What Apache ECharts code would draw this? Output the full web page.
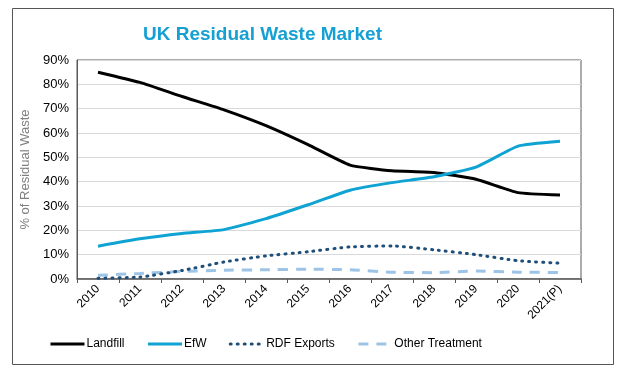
<!DOCTYPE html>
<html>
<head>
  <meta charset="utf-8">
  <script src="https://cdn.jsdelivr.net/npm/echarts@6/dist/echarts.min.js"></script>
  <style>
  html,body{margin:0;padding:0;background:#fff}
  #main{width:620px;height:374px}
  </style>
</head>
<body>
  <div id="main"></div>
  <script type="text/javascript">
      // data (percent)
      var years = ['2010', '2011', '2012', '2013', '2014', '2015', '2016', '2017', '2018', '2019', '2020', '2021(P)'];
      var landfill = [85, 80.8, 75, 69.5, 63, 55.2, 46.8, 44.5, 43.8, 41, 35.5, 34.5];
      var efw = [13.5, 16.5, 18.7, 20.3, 24.8, 30.5, 36.5, 39.6, 42, 46, 54.6, 56.6];
      var rdf = [0.3, 0.8, 3.5, 7, 9.5, 11.2, 13.2, 13.6, 12, 10, 7.5, 6.5];
      var other = [1.5, 2.3, 3.1, 3.6, 3.8, 4, 3.8, 2.8, 2.6, 3.3, 2.8, 2.7];

      var myChart = echarts.init(document.getElementById('main'));
      var font = 'Liberation Sans, Arial, sans-serif';

      var option = {
          animation: false,
          title: {
              text: 'UK Residual Waste Market',
              left: 138,
              top: 20,
              textStyle: {
                  color: '#14a0d2',
                  fontSize: 19,
                  fontWeight: 'bold',
                  fontFamily: font
              }
          },
          graphic: [{
              type: 'rect',
              shape: { x: 12.5, y: 8.5, width: 601, height: 356 },
              style: { fill: 'none', stroke: '#555', lineWidth: 1 },
              silent: true
          }],
          legend: {
              bottom: 19,
              left: 44,
              itemWidth: 34,
              itemHeight: 10,
              itemGap: 22,
              itemStyle: { opacity: 0 },
              lineStyle: { width: 3 },
              textStyle: { fontSize: 12, color: '#000', fontFamily: font, padding: [0, 0, 0, -3] },
              data: ['Landfill', 'EfW', 'RDF Exports', 'Other Treatment']
          },
          grid: {
              left: 77,
              right: 39,
              top: 60,
              bottom: 95,
              show: true,
              borderColor: '#595959',
              borderWidth: 1,
              containLabel: false
          },
          xAxis: {
              type: 'category',
              boundaryGap: true,
              data: years,
              axisLine: { lineStyle: { color: '#595959', width: 1.5 } },
              axisTick: { show: true, length: 4, lineStyle: { color: '#595959' } },
              axisLabel: {
                  rotate: 45,
                  interval: 0,
                  color: '#000',
                  fontSize: 12,
                  fontFamily: font,
                  margin: 8
              }
          },
          yAxis: {
              type: 'value',
              min: 0,
              max: 90,
              interval: 10,
              name: '% of Residual Waste',
              nameLocation: 'middle',
              nameGap: 44,
              nameTextStyle: { color: '#7f7f7f', fontSize: 13, fontFamily: font },
              axisLine: { show: true, lineStyle: { color: '#595959' } },
              axisTick: { show: false },
              axisLabel: {
                  formatter: '{value}%',
                  color: '#000',
                  fontSize: 13,
                  fontFamily: font,
                  margin: 8
              },
              splitLine: { lineStyle: { color: '#d9d9d9', width: 1 } }
          },
          series: [{
              name: 'Landfill',
              type: 'line',
              data: landfill,
              smooth: 0.15,
              symbol: 'none',
              lineStyle: { color: '#000', width: 3 },
              itemStyle: { color: '#000' },
              z: 4
          }, {
              name: 'EfW',
              type: 'line',
              data: efw,
              smooth: 0.15,
              symbol: 'none',
              lineStyle: { color: '#0fa3d3', width: 3 },
              itemStyle: { color: '#0fa3d3' },
              z: 5
          }, {
              name: 'RDF Exports',
              type: 'line',
              data: rdf,
              smooth: 0.15,
              symbol: 'none',
              lineStyle: { color: '#1f4e79', width: 3, type: [1, 6], cap: 'round' },
              itemStyle: { color: '#1f4e79' },
              z: 3
          }, {
              name: 'Other Treatment',
              type: 'line',
              data: other,
              smooth: 0.15,
              symbol: 'none',
              lineStyle: { color: '#9dc3e6', width: 3, type: [10, 8] },
              itemStyle: { color: '#9dc3e6' },
              z: 2
          }]
      };
      myChart.setOption(option);
  </script>
</body>
</html>
